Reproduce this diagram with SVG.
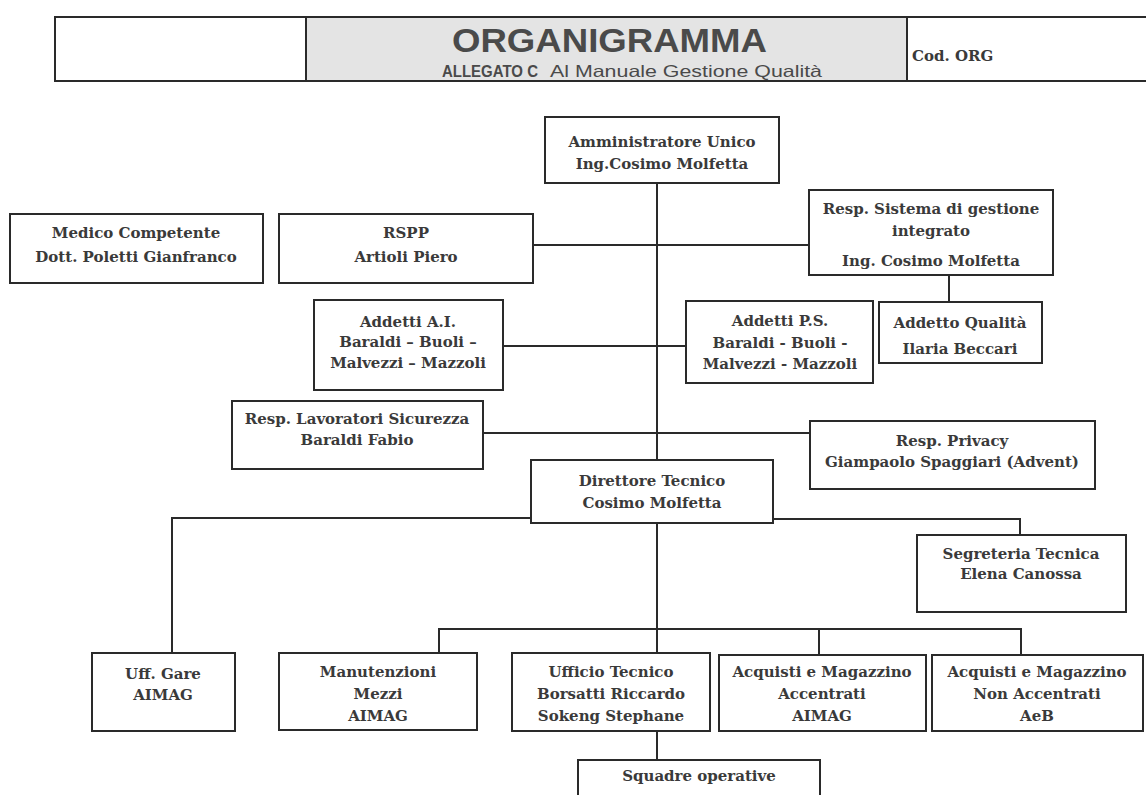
<svg xmlns="http://www.w3.org/2000/svg" width="1146" height="795" viewBox="0 0 1146 795">
<style>
.box{fill:#fff;stroke:#2a2a2a;stroke-width:2}
.ln{fill:none;stroke:#2a2a2a;stroke-width:2}
.t{font-family:"DejaVu Serif","Liberation Serif",serif;font-weight:bold;font-size:15px;fill:#3a3a3a;text-anchor:middle}
.h{font-family:"Liberation Sans",Arial,sans-serif;fill:#4a4a4a}
</style>
<rect width="1146" height="795" fill="#fff"/>
<g id="header">
<rect x="306" y="17" width="601" height="64" fill="#e4e4e4"/>
<rect x="55" y="17" width="1100" height="64" fill="none" stroke="#2a2a2a" stroke-width="2"/>
<line x1="306" y1="17" x2="306" y2="81" stroke="#2a2a2a" stroke-width="2"/>
<line x1="907" y1="17" x2="907" y2="81" stroke="#2a2a2a" stroke-width="2"/>
<text class="h" x="452" y="52" font-size="34" font-weight="bold" textLength="315" lengthAdjust="spacingAndGlyphs">ORGANIGRAMMA</text>
<text class="h" x="442" y="77" font-size="17" font-weight="bold" textLength="96" lengthAdjust="spacingAndGlyphs">ALLEGATO C</text>
<text class="h" x="550" y="77" font-size="16.5" textLength="272" lengthAdjust="spacingAndGlyphs">Al Manuale Gestione Qualità</text>
<text x="912" y="61" font-family="DejaVu Serif,serif" font-weight="bold" font-size="15" fill="#3a3a3a">Cod. ORG</text>
</g>
<g id="connectors">
<line class="ln" x1="657" y1="183" x2="657" y2="460"/>
<line class="ln" x1="533" y1="245" x2="809" y2="245"/>
<line class="ln" x1="949" y1="275" x2="949" y2="302"/>
<line class="ln" x1="503" y1="346" x2="686" y2="346"/>
<line class="ln" x1="483" y1="433" x2="810" y2="433"/>
<polyline class="ln" points="531,518 172,518 172,653"/>
<polyline class="ln" points="773,519 1020,519 1020,535"/>
<line class="ln" x1="657" y1="523" x2="657" y2="653"/>
<polyline class="ln" points="439,653 439,629 1021,629 1021,655"/>
<line class="ln" x1="819" y1="629" x2="819" y2="655"/>
<line class="ln" x1="657" y1="731" x2="657" y2="760"/>
</g>
<g id="amministratore"><rect class="box" x="545" y="117" width="234" height="66"/>
<text class="t" x="662" y="147">Amministratore Unico</text><text class="t" x="662" y="169">Ing.Cosimo Molfetta</text></g>
<g id="medico"><rect class="box" x="10" y="214" width="253" height="69"/>
<text class="t" x="136" y="238">Medico Competente</text><text class="t" x="136" y="262">Dott. Poletti Gianfranco</text></g>
<g id="rspp"><rect class="box" x="279" y="214" width="254" height="69"/>
<text class="t" x="406" y="238">RSPP</text><text class="t" x="406" y="262">Artioli Piero</text></g>
<g id="resp-sistema"><rect class="box" x="809" y="190" width="244" height="85"/>
<text class="t" x="931" y="214">Resp. Sistema di gestione</text><text class="t" x="931" y="236">integrato</text><text class="t" x="931" y="266">Ing. Cosimo Molfetta</text></g>
<g id="addetto-qualita"><rect class="box" x="879" y="302" width="163" height="61"/>
<text class="t" x="960" y="328">Addetto Qualità</text><text class="t" x="960" y="354">Ilaria Beccari</text></g>
<g id="addetti-ps"><rect class="box" x="686" y="301" width="187" height="82"/>
<text class="t" x="780" y="326">Addetti P.S.</text><text class="t" x="780" y="348">Baraldi - Buoli -</text><text class="t" x="780" y="369">Malvezzi - Mazzoli</text></g>
<g id="addetti-ai"><rect class="box" x="314" y="300" width="189" height="90"/>
<text class="t" x="408" y="327">Addetti  A.I.</text><text class="t" x="408" y="347">Baraldi – Buoli –</text><text class="t" x="408" y="368">Malvezzi – Mazzoli</text></g>
<g id="resp-lavoratori"><rect class="box" x="232" y="401" width="251" height="68"/>
<text class="t" x="357" y="424">Resp. Lavoratori Sicurezza</text><text class="t" x="357" y="445">Baraldi Fabio</text></g>
<g id="resp-privacy"><rect class="box" x="810" y="421" width="285" height="68"/>
<text class="t" x="952" y="446">Resp. Privacy</text><text class="t" x="952" y="467">Giampaolo Spaggiari (Advent)</text></g>
<g id="direttore"><rect class="box" x="531" y="460" width="242" height="63"/>
<text class="t" x="652" y="486">Direttore Tecnico</text><text class="t" x="652" y="508">Cosimo Molfetta</text></g>
<g id="segreteria"><rect class="box" x="917" y="535" width="209" height="77"/>
<text class="t" x="1021" y="559">Segreteria Tecnica</text><text class="t" x="1021" y="579">Elena Canossa</text></g>
<g id="uff-gare"><rect class="box" x="92" y="653" width="143" height="78"/>
<text class="t" x="163" y="679">Uff. Gare</text><text class="t" x="163" y="700">AIMAG</text></g>
<g id="manutenzioni"><rect class="box" x="279" y="653" width="198" height="77"/>
<text class="t" x="378" y="677">Manutenzioni</text><text class="t" x="378" y="699">Mezzi</text><text class="t" x="378" y="721">AIMAG</text></g>
<g id="ufficio-tecnico"><rect class="box" x="512" y="653" width="198" height="78"/>
<text class="t" x="611" y="677">Ufficio Tecnico</text><text class="t" x="611" y="699">Borsatti Riccardo</text><text class="t" x="611" y="721">Sokeng Stephane</text></g>
<g id="acquisti-accentrati"><rect class="box" x="719" y="655" width="207" height="76"/>
<text class="t" x="822" y="677">Acquisti e Magazzino</text><text class="t" x="822" y="699">Accentrati</text><text class="t" x="822" y="721">AIMAG</text></g>
<g id="acquisti-non-accentrati"><rect class="box" x="932" y="655" width="211" height="76"/>
<text class="t" x="1037" y="677">Acquisti e Magazzino</text><text class="t" x="1037" y="699">Non Accentrati</text><text class="t" x="1037" y="721">AeB</text></g>
<g id="squadre"><rect class="box" x="578" y="760" width="242" height="45"/>
<text class="t" x="699" y="781">Squadre operative</text></g>
</svg>
